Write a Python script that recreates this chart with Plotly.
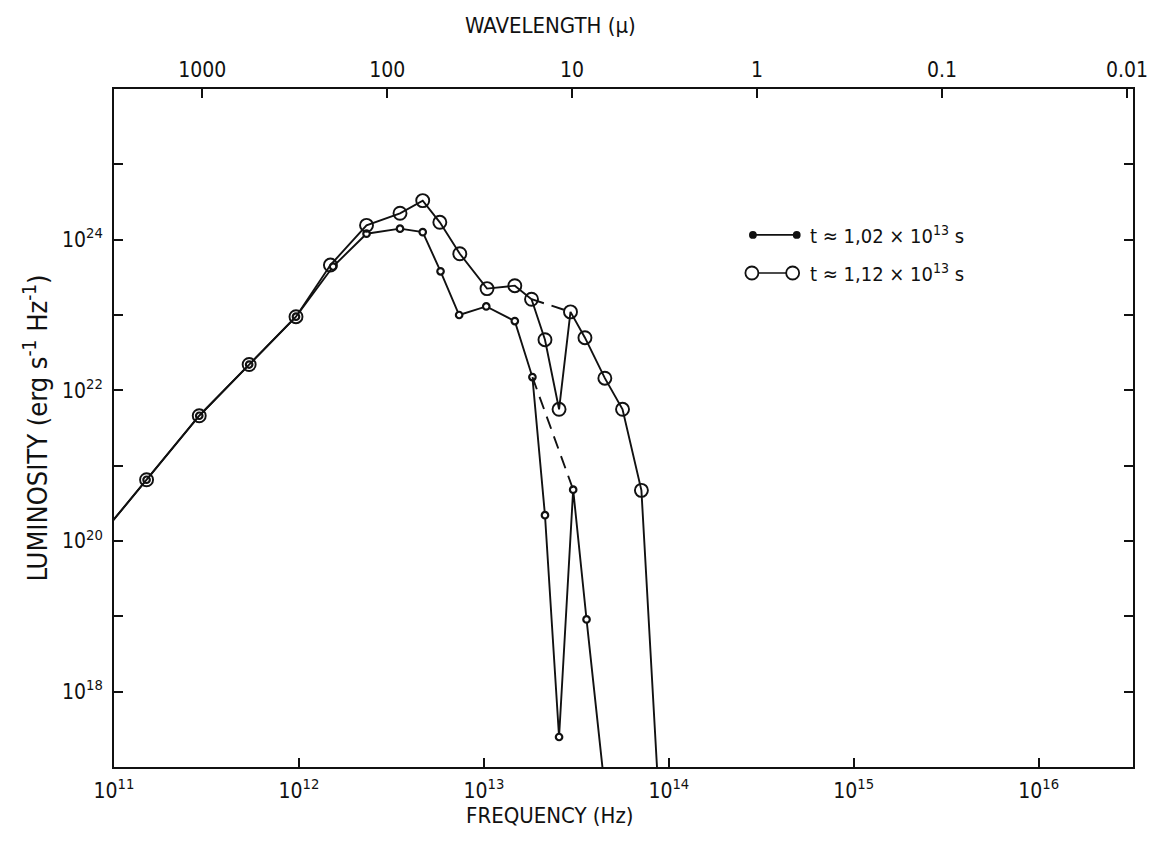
import plotly.graph_objects as go

# Frequencies in Hz, luminosities in erg s^-1 Hz^-1
# Low-frequency points shared by both epochs (first point lies just off the left edge)
shared_freq = [8.39e10, 1.50e11, 2.89e11, 5.38e11, 9.64e11]
shared_lum = [1.15e20, 6.5e20, 4.6e21, 2.2e22, 9.5e22]

# t = 1.02e13 s (small dots); last point lies below the frequency axis
early_freq = [1.53e12, 2.32e12, 3.52e12, 4.67e12, 5.83e12, 7.35e12, 1.03e13,
              1.47e13, 1.83e13, 2.14e13, 2.55e13, 3.04e13, 3.59e13, 4.84e13]
early_lum = [4.4e23, 1.2e24, 1.4e24, 1.26e24, 3.8e23, 1.0e23, 1.3e23,
             8.3e22, 1.5e22, 2.2e20, 2.5e17, 4.8e20, 9.1e18, 1.0e16]

# t = 1.12e13 s (open circles); last point lies below the frequency axis
late_freq = [1.48e12, 2.32e12, 3.52e12, 4.67e12, 5.78e12, 7.41e12, 1.04e13,
             1.47e13, 1.81e13, 2.14e13, 2.55e13, 2.94e13, 3.52e13, 4.51e13,
             5.62e13, 7.11e13, 9.10e13]
late_lum = [4.6e23, 1.55e24, 2.24e24, 3.3e24, 1.7e24, 6.5e23, 2.24e23,
            2.45e23, 1.62e23, 4.7e22, 5.6e21, 1.1e23, 5.0e22, 1.45e22,
            5.6e21, 4.7e20, 1.0e16]

# Dashed bridges skipping the dip (index pairs into the series above)
early_bridge = (8, 11)
late_bridge = (8, 11)

# Axis ticks
freq_ticks = [1e11, 1e12, 1e13, 1e14, 1e15, 1e16]
freq_labels = ["10<sup>11</sup>", "10<sup>12</sup>", "10<sup>13</sup>",
               "10<sup>14</sup>", "10<sup>15</sup>", "10<sup>16</sup>"]
lum_ticks = [1e18, 1e19, 1e20, 1e21, 1e22, 1e23, 1e24, 1e25]
lum_labels = ["10<sup>18</sup>", "", "10<sup>20</sup>", "", "10<sup>22</sup>", "",
              "10<sup>24</sup>", ""]
wavelength_um = [1000, 100, 10, 1, 0.1, 0.01]
wavelength_labels = ["1000", "100", "10", "1", "0.1", "0.01"]
C_UM_HZ = 3.0e14  # speed of light in micron * Hz
wavelength_freq = [C_UM_HZ / w for w in wavelength_um]

FONT = "DejaVu Sans Condensed, Liberation Sans Narrow, DejaVu Sans, sans-serif"
INK = "#111111"
LOG_X_RANGE = [11, 16.51]

fig = go.Figure()

fig.add_trace(go.Scatter(
    x=shared_freq + early_freq, y=shared_lum + early_lum,
    mode="lines+markers", line=dict(color=INK, width=1.9),
    marker=dict(symbol="circle", size=6.5, color="white", line=dict(color=INK, width=2.2)),
    showlegend=False, hoverinfo="x+y"))

fig.add_trace(go.Scatter(
    x=shared_freq + late_freq, y=shared_lum + late_lum,
    mode="lines+markers", line=dict(color=INK, width=1.9),
    marker=dict(symbol="circle-open", size=13, color=INK, line=dict(width=1.9)),
    showlegend=False, hoverinfo="x+y"))

# Dashed bridges; placed on the wavelength axis, which shares the frequency scale
for fx, fy, (i, j) in [(early_freq, early_lum, early_bridge),
                       (late_freq, late_lum, late_bridge)]:
    fig.add_trace(go.Scatter(
        x=[fx[i], fx[j]], y=[fy[i], fy[j]], mode="lines", xaxis="x2", yaxis="y",
        line=dict(color=INK, width=1.9, dash="13px,8px"),
        showlegend=False, hoverinfo="skip"))

# Legend drawn as marker-line-marker keys
shapes = []
key_rows = [
    (0.7847, 0.627, 0.670, 3, True, "t ≈ 1,02 × 10<sup>13</sup> s"),
    (0.7286, 0.626, 0.666, 6.5, False, "t ≈ 1,12 × 10<sup>13</sup> s"),
]
annotations = []
for yk, xa, xb, r, filled, label in key_rows:
    shapes.append(dict(type="line", xref="paper", yref="paper", x0=xa, x1=xb, y0=yk, y1=yk,
                       line=dict(color=INK, width=1.7), layer="above"))
    for xc in (xa, xb):
        shapes.append(dict(type="circle", xref="paper", yref="paper",
                           xsizemode="pixel", ysizemode="pixel",
                           xanchor=xc, yanchor=yk, x0=-r, x1=r, y0=-r, y1=r,
                           fillcolor=INK if filled else "white",
                           line=dict(color=INK, width=1.8), layer="above"))
    annotations.append(dict(xref="paper", yref="paper", x=0.681, y=yk, xanchor="left",
                            yanchor="middle", text=label, showarrow=False,
                            font=dict(family=FONT, size=20, color=INK)))

# Axis titles sit left of the plot centre
annotations.append(dict(xref="paper", yref="paper", x=0.428, y=-0.071, xanchor="center",
                        yanchor="middle", text="FREQUENCY (Hz)", showarrow=False,
                        font=dict(family=FONT, size=22, color=INK)))
annotations.append(dict(xref="paper", yref="paper", x=0.428, y=1.094, xanchor="center",
                        yanchor="middle", text="WAVELENGTH (μ)", showarrow=False,
                        font=dict(family=FONT, size=22, color=INK)))

axis_common = dict(showline=True, linewidth=2, linecolor=INK, ticks="inside",
                   ticklen=9, tickwidth=2, tickcolor=INK, showgrid=False, zeroline=False,
                   automargin=False, tickfont=dict(family=FONT, size=21, color=INK))

fig.update_layout(
    width=1154, height=857,
    margin=dict(l=114, r=21, t=89, b=90, autoexpand=False),
    paper_bgcolor="white", plot_bgcolor="white",
    font=dict(family=FONT, color=INK),
    xaxis=dict(type="log", range=LOG_X_RANGE, tickvals=freq_ticks, ticktext=freq_labels,
               mirror=False, ticklabelstandoff=4, **axis_common),
    xaxis2=dict(type="log", range=LOG_X_RANGE, overlaying="x", side="top", anchor="y",
                tickvals=wavelength_freq, ticktext=wavelength_labels, ticklabelstandoff=2,
                **axis_common),
    yaxis=dict(type="log", range=[17, 26], tickvals=lum_ticks, ticktext=lum_labels,
               mirror="ticks", ticklabelstandoff=5,
               title=dict(text="LUMINOSITY (erg s<sup>-1</sup> Hz<sup>-1</sup>)",
                          font=dict(family=FONT, size=27, color=INK), standoff=6),
               **axis_common),
    shapes=shapes, annotations=annotations,
)

fig.write_html("out.html")
